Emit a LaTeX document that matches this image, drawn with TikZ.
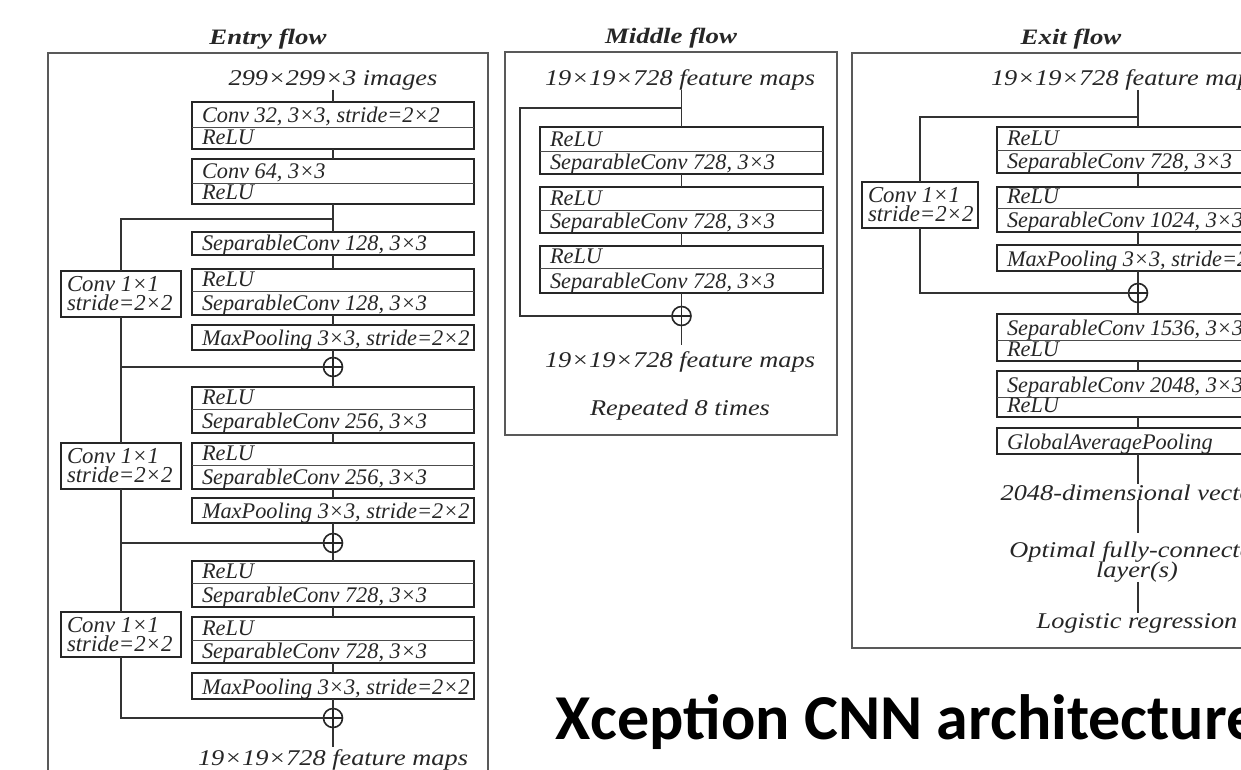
\documentclass[tikz,border=0pt]{standalone}
\usepackage{fontspec}
\setmainfont{Liberation Serif}
\newfontfamily\freefont[FakeStretch=1.17]{Liberation Serif}
\newfontfamily\ttlfont[FakeStretch=1.22]{Liberation Serif}
\newfontfamily\titlefont{Carlito}
\tikzset{
  blk/.style={draw=black!85, line width=2pt, inner sep=0pt, outer sep=0pt, anchor=north west},
  divl/.style={draw=black!70, line width=0.9pt},
  lbl/.style={inner sep=0pt, outer sep=0pt, font=\fontsize{22.3}{22}\selectfont\itshape, text=black!85},
  flbl/.style={inner sep=0pt, outer sep=0pt, font=\freefont\fontsize{22.5}{22}\selectfont\itshape, text=black!85},
  conn/.style={draw=black!80, line width=1.1pt},
  frm/.style={draw=black!65, line width=1.3pt},
  ttl/.style={inner sep=0pt, outer sep=0pt, font=\ttlfont\fontsize{22}{22}\selectfont\bfseries\itshape, text=black!85},
  plusn/.style={circle, draw=black!85, line width=1.6pt, minimum size=19pt, inner sep=0pt, outer sep=0pt},
  plusx/.style={draw=black!85, line width=1.6pt},
}
\newcommand\twobox[8]{%
  \node[blk, minimum width=#3-#2, minimum height=#6-#4] (#1) at (#2,#4) {};
  \draw[divl] (#2,#5) -- (#3,#5);
  \node[lbl, anchor=base west] (#1-a) at (#2+10,#5-5) {#7};
  \node[lbl, anchor=base west] (#1-b) at (#2+10,#6-5) {#8};
}
\newcommand\onebox[6]{%
  \node[blk, minimum width=#3-#2, minimum height=#5-#4] (#1) at (#2,#4) {};
  \node[lbl, anchor=base west] (#1-a) at (#2+10,#5-5) {#6};
}
\newcommand\convbox[5]{%
  \node[blk, minimum width=#3-#2, minimum height=#5-#4] (#1) at (#2,#4) {};
  \node[lbl, align=left, anchor=north west, font=\fontsize{22.8}{18.5}\selectfont\itshape] (#1-a) at (#2+6,#4+5.5) {Conv 1×1\\stride=2×2};
}
\newcommand\plusnode[3]{%
  \node[plusn] (#1) at (#2,#3) {};
  \draw[plusx] (#1.north) -- (#1.south) (#1.west) -- (#1.east);
}
\begin{document}
\begin{tikzpicture}[x=1pt,y=-1pt]
\useasboundingbox (0,0) rectangle (1241,769);
\fill[white] (0,0) rectangle (1241,769);
\clip (0,0) rectangle (1241,769);

% ---------------- Entry flow ----------------
\draw[frm] (48,53) rectangle (488,800);
\node[ttl, anchor=base] (tE) at (268,44) {Entry flow};
\node[flbl, anchor=base] (e0) at (333,85) {299×299×3 images};
\twobox{e1}{192}{474}{102}{127}{149}{Conv 32, 3×3, stride=2×2}{ReLU}
\twobox{e2}{192}{474}{159}{183}{204}{Conv 64, 3×3}{ReLU}
\onebox{e3}{192}{474}{232}{255}{SeparableConv 128, 3×3}
\twobox{e4}{192}{474}{269}{291}{315}{ReLU}{SeparableConv 128, 3×3}
\convbox{c1}{61}{181}{271}{317}
\onebox{e5}{192}{474}{325}{350}{MaxPooling 3×3, stride=2×2}
\plusnode{p1}{333}{367}
\twobox{e6}{192}{474}{387}{409}{433}{ReLU}{SeparableConv 256, 3×3}
\twobox{e7}{192}{474}{443}{465}{489}{ReLU}{SeparableConv 256, 3×3}
\convbox{c2}{61}{181}{443}{489}
\onebox{e8}{192}{474}{498}{523}{MaxPooling 3×3, stride=2×2}
\plusnode{p2}{333}{543}
\twobox{e9}{192}{474}{561}{583}{607}{ReLU}{SeparableConv 728, 3×3}
\twobox{e10}{192}{474}{617}{640}{663}{ReLU}{SeparableConv 728, 3×3}
\convbox{c3}{61}{181}{612}{657}
\onebox{e11}{192}{474}{673}{699}{MaxPooling 3×3, stride=2×2}
\plusnode{p3}{333}{718}
\coordinate (eo) at (333,747);
\node[flbl, anchor=base] (eout) at (333,765) {19×19×728 feature maps};
\coordinate (eb1) at (333,219);

\draw[conn] (e0.south) -- (e1.north);
\draw[conn] (e1.south) -- (e2.north);
\draw[conn] (e2.south) -- (e3.north);
\draw[conn] (eb1) -| (c1.north);
\draw[conn] (e3.south) -- (e4.north);
\draw[conn] (e4.south) -- (e5.north);
\draw[conn] (e5.south) -- (p1.north);
\draw[conn] (p1.south) -- (e6.north);
\draw[conn] (e6.south) -- (e7.north);
\draw[conn] (e7.south) -- (e8.north);
\draw[conn] (e8.south) -- (p2.north);
\draw[conn] (p2.south) -- (e9.north);
\draw[conn] (e9.south) -- (e10.north);
\draw[conn] (e10.south) -- (e11.north);
\draw[conn] (e11.south) -- (p3.north);
\draw[conn] (p3.south) -- (eo);
\draw[conn] (c1.south) -- (c2.north);
\draw[conn] (c1.south |- p1.west) -- (p1.west);
\draw[conn] (c2.south) -- (c3.north);
\draw[conn] (c2.south |- p2.west) -- (p2.west);
\draw[conn] (c3.south) |- (p3.west);

% ---------------- Middle flow ----------------
\draw[frm] (505,52) rectangle (837,435);
\node[ttl, anchor=base] (tM) at (671,43) {Middle flow};
\node[flbl, anchor=base] (m0) at (680,85) {19×19×728 feature maps};
\twobox{m1}{540}{823}{127}{151}{174}{ReLU}{SeparableConv 728, 3×3}
\twobox{m2}{540}{823}{187}{210}{233}{ReLU}{SeparableConv 728, 3×3}
\twobox{m3}{540}{823}{246}{268}{293}{ReLU}{SeparableConv 728, 3×3}
\plusnode{mp}{681.5}{316}
\coordinate (mb) at (681.5,108);
\coordinate (mL) at (520,316);
\coordinate (mo) at (681.5,345);
\draw[conn] (m1.north |- m0.south) -- (m1.north);
\draw[conn] (mb) -| (mL) -- (mp.west);
\draw[conn] (m1.south) -- (m2.north);
\draw[conn] (m2.south) -- (m3.north);
\draw[conn] (m3.south) -- (mp.north);
\draw[conn] (mp.south) -- (mo);
\node[flbl, anchor=base] (m4) at (680,367) {19×19×728 feature maps};
\node[flbl, anchor=base] (m5) at (680,415) {Repeated 8 times};

% ---------------- Exit flow ----------------
\draw[frm] (852,53) rectangle (1290,648);
\node[ttl, anchor=base] (tX) at (1071,44) {Exit flow};
\node[flbl, anchor=base] (x0) at (1126,85) {19×19×728 feature maps};
\twobox{x1}{997}{1279}{127}{150}{173}{ReLU}{SeparableConv 728, 3×3}
\convbox{xc}{862}{978}{182}{228}
\twobox{x2}{997}{1279}{187}{208}{232}{ReLU}{SeparableConv 1024, 3×3}
\onebox{x3}{997}{1279}{245}{271}{MaxPooling 3×3, stride=2×2}
\plusnode{xp}{1138}{293}
\twobox{x4}{997}{1279}{314}{340}{361}{SeparableConv 1536, 3×3}{ReLU}
\twobox{x5}{997}{1279}{371}{397}{417}{SeparableConv 2048, 3×3}{ReLU}
\onebox{x6}{997}{1279}{428}{454}{GlobalAveragePooling}
\node[flbl, anchor=base] (x7) at (1137,500) {2048-dimensional vectors};
\node[flbl, anchor=base] (x8a) at (1137,557) {Optimal fully-connected};
\node[flbl, anchor=base] (x8b) at (1137,577) {layer(s)};
\node[flbl, anchor=base] (x9) at (1137,628) {Logistic regression};
\coordinate (xb) at (1138,117);
\draw[conn] (x1.north |- x0.south) -- (x1.north);
\draw[conn] (xb) -| (xc.north);
\draw[conn] (xc.south) |- (xp.west);
\draw[conn] (x1.south) -- (x2.north);
\draw[conn] (x2.south) -- (x3.north);
\draw[conn] (x3.south) -- (xp.north);
\draw[conn] (xp.south) -- (x4.north);
\draw[conn] (x4.south) -- (x5.north);
\draw[conn] (x5.south) -- (x6.north);
\draw[conn] (x6.south) -- (x6.south |- x7.north);
\draw[conn] (x6.south |- x7.south) -- ([yshift=8pt]x6.south |- x8a.north);
\draw[conn] (x6.south |- x8b.south) -- (x6.south |- x9.north);

% ---------------- Title ----------------
\node[inner sep=0pt, anchor=base west, font=\titlefont\bfseries\fontsize{64}{64}\selectfont] (title) at (555,739) {Xception CNN architecture};
\end{tikzpicture}
\end{document}
